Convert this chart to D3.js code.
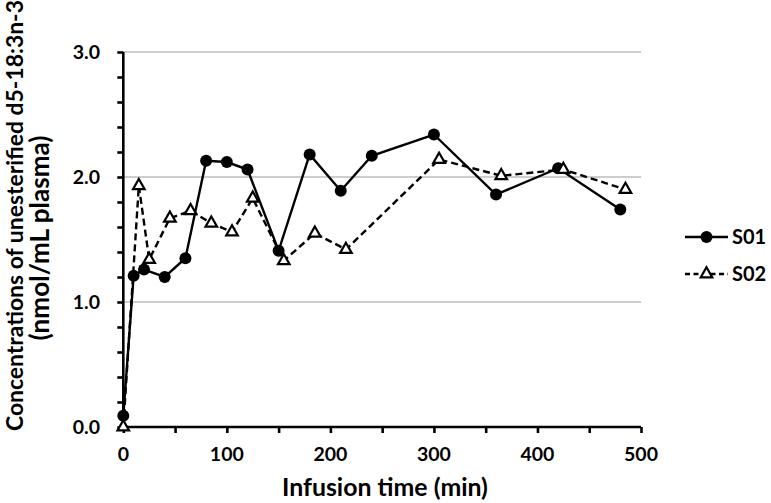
<!DOCTYPE html>
<html><head><meta charset="utf-8">
<script src="https://cdn.jsdelivr.net/npm/d3@7"></script>
<style>
body{margin:0;background:#fff;}
svg{display:block;font-family:Lato,"Open Sans",sans-serif;font-weight:bold;}
</style></head>
<body>
<svg id="chart" width="771" height="503"></svg>
<script>
const s01Time  = [0, 10, 20, 40, 60, 80, 100, 120, 150, 180, 210, 240, 300, 360, 420, 480];
const s01Value = [0.09, 1.21, 1.26, 1.20, 1.35, 2.13, 2.12, 2.06, 1.41, 2.18, 1.89, 2.17, 2.34, 1.86, 2.07, 1.74];
const s02Time  = [0, 15, 25, 45, 65, 85, 105, 125, 155, 185, 215, 305, 365, 425, 485];
const s02Value = [0.0, 1.93, 1.34, 1.67, 1.73, 1.63, 1.56, 1.83, 1.33, 1.55, 1.42, 2.14, 2.01, 2.06, 1.90];
const xTicks = [0, 100, 200, 300, 400, 500];
const yTicks = [0, 1, 2, 3];
const seriesNames = ["S01", "S02"];
const xTitle = "Infusion time (min)";
const yTitle1 = "Concentrations of unesterified d5-18:3n-3";
const yTitle2 = "(nmol/mL plasma)";

const svg = d3.select("#chart");
const x = d3.scaleLinear().domain([0, 500]).range([123.3, 641]);
const y = d3.scaleLinear().domain([0, 3]).range([427, 52]);

// fit a text element to a target length by adjusting font size
function fit(sel, target) {
  const len = sel.node().getComputedTextLength();
  const fs = parseFloat(sel.attr("font-size"));
  sel.attr("font-size", fs * target / len);
}

// gridlines
svg.append("g").selectAll("line").data(yTicks.filter(d => d > 0)).join("line")
  .attr("x1", x(0)).attr("x2", x(500)).attr("y1", d => y(d)).attr("y2", d => y(d))
  .attr("stroke", "#bdbdbd").attr("stroke-width", 1.5);

// y axis
const yAxis = d3.axisLeft(y).tickValues(d3.range(0, 3.0001, 0.2)).tickSize(6).tickFormat("");
const gy = svg.append("g").attr("transform", `translate(${x(0)},0)`).call(yAxis);
gy.select(".domain").attr("stroke", "#000").attr("stroke-width", 2.6).attr("d", `M0,${y(0)}V${y(3)}`);
gy.selectAll(".tick line").attr("stroke", "#000").attr("stroke-width", 2.6);
svg.append("g").selectAll("text").data(yTicks).join("text")
  .attr("x", 100).attr("y", d => y(d)).attr("dy", "0.36em").attr("text-anchor", "end")
  .attr("font-size", 19.5).text(d => d3.format(".1f")(d));

// x axis
const xAxis = d3.axisBottom(x).tickValues(d3.range(0, 501, 50)).tickSize(6).tickFormat("");
const gx = svg.append("g").attr("transform", `translate(0,${y(0)})`).call(xAxis);
gx.select(".domain").attr("stroke", "#000").attr("stroke-width", 2.6).attr("d", `M${x(0)},0H${x(500)}`);
gx.selectAll(".tick line").attr("stroke", "#000").attr("stroke-width", 2.6);
svg.append("g").selectAll("text").data(xTicks).join("text")
  .attr("x", d => x(d)).attr("y", 461).attr("text-anchor", "middle")
  .attr("font-size", 19.5).text(d => d);

// titles
const xt = svg.append("text").attr("x", 385).attr("y", 496).attr("text-anchor", "middle")
  .attr("font-size", 24).text(xTitle);
fit(xt, 206);
const yt1 = svg.append("text").attr("transform", "translate(23,431) rotate(-90)")
  .attr("text-anchor", "start").attr("font-size", 22).text(yTitle1);
fit(yt1, 431);
const yt2 = svg.append("text").attr("transform", "translate(49,238) rotate(-90)")
  .attr("text-anchor", "middle").attr("font-size", 22).text(yTitle2);
fit(yt2, 205);

// series
const s01 = s01Time.map((t, i) => [t, s01Value[i]]);
const s02 = s02Time.map((t, i) => [t, s02Value[i]]);
const line = d3.line().x(d => x(d[0])).y(d => y(d[1]));
const tri = d3.symbol().type(d3.symbolTriangle).size(58);

svg.append("path").datum(s02).attr("d", line).attr("fill", "none")
  .attr("stroke", "#000").attr("stroke-width", 2.4).attr("stroke-dasharray", "7,4");
svg.append("path").datum(s01).attr("d", line).attr("fill", "none")
  .attr("stroke", "#000").attr("stroke-width", 2.4);
svg.append("g").selectAll("circle").data(s01).join("circle")
  .attr("cx", d => x(d[0])).attr("cy", d => y(d[1])).attr("r", 6).attr("fill", "#000");
svg.append("g").selectAll("path").data(s02).join("path")
  .attr("d", tri).attr("transform", d => `translate(${x(d[0])},${y(d[1])})`)
  .attr("fill", "#fff").attr("stroke", "#000").attr("stroke-width", 2.2);

// legend
const legY = [237, 274];
const lg = svg.append("g");
lg.append("line").attr("x1", 685).attr("x2", 728).attr("y1", legY[0]).attr("y2", legY[0])
  .attr("stroke", "#000").attr("stroke-width", 2.4);
lg.append("circle").attr("cx", 706.5).attr("cy", legY[0]).attr("r", 6).attr("fill", "#000");
lg.append("line").attr("x1", 685).attr("x2", 728).attr("y1", legY[1]).attr("y2", legY[1])
  .attr("stroke", "#000").attr("stroke-width", 2.4).attr("stroke-dasharray", "5,3.5");
lg.append("path").attr("d", tri).attr("transform", `translate(706.5,${legY[1]})`)
  .attr("fill", "#fff").attr("stroke", "#000").attr("stroke-width", 2.2);
lg.selectAll("text.leg").data(seriesNames).join("text").attr("class", "leg")
  .attr("x", 732).attr("y", (d, i) => legY[i]).attr("dy", "0.36em")
  .attr("font-size", 20).text(d => d);
</script>
</body></html>
